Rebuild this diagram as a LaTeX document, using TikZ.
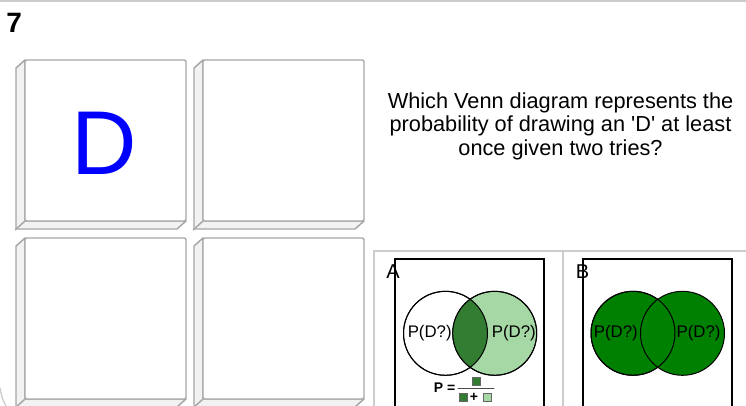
\documentclass[tikz,border=0pt]{standalone}
\usepackage{fontspec}
\setmainfont{Liberation Sans}
\definecolor{tilegray}{HTML}{A6A6A6}
\definecolor{framegray}{HTML}{CCCCCC}
\definecolor{lightgreen}{HTML}{A6D8A6}
\definecolor{darkgreen}{HTML}{327D32}
\definecolor{venngreen}{HTML}{008000}
\tikzset{
  tileface/.style={draw=tilegray,line width=1.1pt,fill=white,rounded corners=1pt,minimum size=120.75pt,inner sep=0pt},
  tileside/.style={draw=tilegray,line width=1.1pt,fill=black!5,line join=round},
  venn/.style={circle,draw=black,line width=0.75pt,minimum size=63pt,inner sep=0pt},
  vennlabel/.style={font=\fontsize{12.6}{12.6}\selectfont,inner sep=0pt},
  optlabel/.style={font=\fontsize{15}{15}\selectfont,inner sep=0pt,anchor=base},
  sq/.style={draw=black!60,line width=0.4pt,minimum size=6.3pt,inner sep=0pt}
}
\begin{document}
\begin{tikzpicture}[x=0.75pt,y=-0.75pt,line cap=round]
\useasboundingbox (0,0) rectangle (746,405);
\draw[framegray,line width=2pt] (0,1)--(746,1);
\draw[framegray,line width=1pt] (0,388) .. controls (2,398) .. (6,406);
\node[anchor=base west,inner sep=0pt,font=\bfseries\fontsize{21}{21}\selectfont] (qnum) at (6,32.5) {7};
\foreach \r in {0,1}{
  \foreach \c in {0,1}{
    \draw[tileside] ({25+178*\c},{60+178*\r}) -- ++(-9,8) -- ++(0,161) -- ++(161,0) -- ++(9,-8) -- ++(-161,0) -- cycle;
    \node[tileface] (tile\r\c) at ({105.5+178*\c},{140.5+178*\r}) {};
    \draw[tilegray,line width=1.1pt] (tile\r\c.south west) -- ++(-9,8);
  }
}
\node[inner sep=0pt,text=blue,font=\fontsize{68}{68}\selectfont] (dletter) at (104.5,143) {D};
\node[align=center,anchor=base,inner sep=0pt,font=\fontsize{16.3}{17.6}\selectfont] (question) at (560.5,155)
  {Which Venn diagram represents the\\probability of drawing an \textquotesingle D\textquotesingle\ at least\\once given two tries?};
\draw[framegray,line width=1.5pt] (374,406) -- (374,250.5) -- (746,250.5);
\draw[framegray,line width=1.5pt] (563,250.5) -- (563,406);
\draw[line width=0.9pt] (395,406) -- (395,259) -- (544,259) -- (544,406);
\draw[line width=0.9pt] (583,406) -- (583,259) -- (732,259) -- (732,406);
\node[optlabel] (optA) at (393,278) {A};
\node[optlabel] (optB) at (582.5,278) {B};
\node[venn,fill=white] (aleft) at (445.5,333.3) {};
\node[venn,fill=lightgreen] (aright) at (494.7,333.3) {};
\begin{scope}
  \clip (aleft.center) circle (31.5pt);
  \fill[darkgreen] (aright.center) circle (31.5pt);
\end{scope}
\draw[line width=0.75pt] (aleft.center) circle (31.5pt) (aright.center) circle (31.5pt);
\node[vennlabel] (palabel) at (429.7,333.3) {P(D?)};
\node[vennlabel] (parlabel) at (513.8,333.3) {P(D?)};
\node[venn,fill=venngreen] (bleft) at (633,333.3) {};
\node[venn,fill=venngreen] (bright) at (682.5,333.3) {};
\draw[line width=0.75pt] (bleft.center) circle (31.5pt);
\node[vennlabel] (pblabel) at (615.8,333.3) {P(D?)};
\node[vennlabel] (pbrlabel) at (698.5,333.3) {P(D?)};
\node[anchor=base,inner sep=0pt,font=\bfseries\fontsize{10.5}{10.5}\selectfont] (peq) at (444.5,392) {P =};
\draw[black!70,line width=0.6pt] (458,388.5) -- (494,388.5);
\node[sq,fill=darkgreen] (numsq) at (476,381) {};
\node[sq,fill=darkgreen] (densq) at (463,397.5) {};
\node[inner sep=0pt,font=\bfseries\fontsize{10.5}{10.5}\selectfont] (plus) at (474,397.5) {+};
\node[sq,fill=lightgreen] (densqb) at (487.5,397.5) {};
\end{tikzpicture}
\end{document}
